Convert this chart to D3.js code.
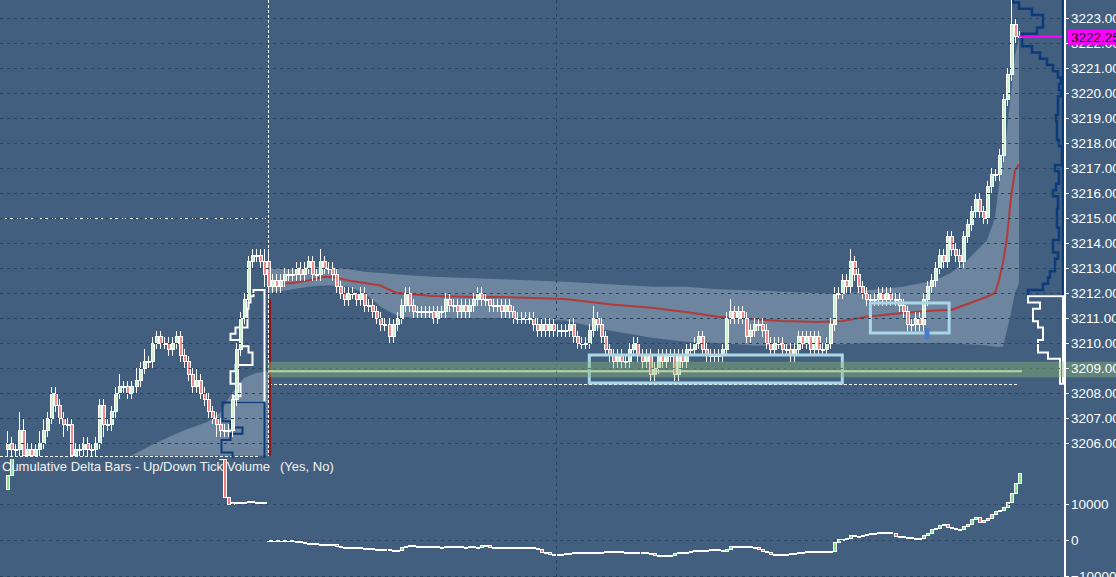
<!DOCTYPE html>
<html lang="en">
<head>
<meta charset="utf-8">
<title>ES tick chart</title>
<script src="https://d3js.org/d3.v7.min.js"></script>
<style>
  body { margin: 0; background: #425f7f; overflow: hidden; }
  svg { display: block; font-family: Arial, "Liberation Sans", sans-serif; }
</style>
</head>
<body>
<div id="chart"></div>
<script>
// ---- data ----
var priceTicks = [3206, 3207, 3208, 3209, 3210, 3211, 3212, 3213, 3214, 3215, 3216, 3217, 3218, 3219, 3220, 3221, 3222, 3223];
var deltaTicks = [10000, 0, -10000];
var lastPrice = 3222.25;

// previous session bars (open = prior close)
var openL0 = 3205.75;
var closeL = [3206.0, 3205.75, 3205.75, 3206.5, 3205.5, 3205.75, 3205.5, 3205.75, 3206.0, 3206.5,
  3207.0, 3208.0, 3207.5, 3207.0, 3206.75, 3206.75, 3205.5, 3205.75, 3205.75, 3206.0,
  3205.75, 3205.75, 3206.0, 3207.5, 3206.75, 3206.75, 3207.25, 3208.0, 3208.25, 3208.25,
  3208.0, 3208.25, 3208.5, 3209.0, 3209.25, 3209.25, 3210.0, 3210.25, 3210.0, 3210.0,
  3209.75, 3210.0, 3210.25, 3209.5, 3209.25, 3208.75, 3208.25, 3208.5, 3208.0, 3207.75,
  3207.25, 3207.0, 3206.75, 3206.5, 3206.5, 3206.5, 3207.75, 3209.75, 3211.0, 3211.75,
  3213.25, 3213.5, 3213.5, 3213.25, 3212.75];
var wickUpL = [2,1,1,3,2,1,1,1,2,2, 1,1,1,1,1,1,1,1,1,1, 1,1,1,1,1,1,1,1,2,1,
  1,1,2,1,2,1,1,1,1,1, 1,1,1,1,1,1,1,2,1,1, 1,1,1,1,1,1,1,1,1,1, 1,1,1,1,2];
var wickDnL = [1,1,1,1,0,0,0,0,1,1, 1,1,1,1,2,1,0,0,1,1, 1,1,1,1,2,1,1,1,1,1,
  1,1,1,1,1,1,1,1,1,1, 1,1,1,1,1,1,1,1,1,1, 1,1,2,1,1,1,1,1,1,1, 1,1,1,1,2];

// current session bars
var openR0 = 3213.25;
var closeR = [3212.25, 3212.5, 3212.25, 3212.5, 3212.75, 3212.75, 3212.75, 3213.0, 3212.75, 3213.0,
  3213.25, 3212.75, 3212.75, 3213.25, 3213.0, 3213.0, 3212.75, 3212.25, 3212.0, 3211.75,
  3212.0, 3212.0, 3211.75, 3212.0, 3211.5, 3211.5, 3211.25, 3211.0, 3210.75, 3210.75,
  3210.25, 3210.75, 3211.0, 3211.5, 3212.0, 3211.5, 3211.25, 3211.25, 3211.25, 3211.25,
  3211.25, 3211.0, 3211.25, 3211.25, 3211.75, 3211.5, 3211.5, 3211.25, 3211.5, 3211.25,
  3211.5, 3211.75, 3212.0, 3211.75, 3211.75, 3211.5, 3211.5, 3211.5, 3211.25, 3211.5,
  3211.25, 3211.0, 3211.0, 3211.0, 3211.0, 3211.0, 3210.75, 3210.5, 3210.75, 3210.5,
  3210.75, 3210.5, 3210.5, 3210.5, 3210.5, 3210.75, 3210.25, 3210.0, 3210.0, 3210.0,
  3210.5, 3211.0, 3210.75, 3210.25, 3209.75, 3209.5, 3209.25, 3209.5, 3209.25, 3209.25,
  3209.75, 3210.0, 3209.5, 3209.25, 3209.5, 3208.75, 3209.0, 3209.5, 3209.25, 3209.5,
  3209.5, 3208.75, 3209.5, 3209.25, 3209.75, 3209.75, 3210.0, 3210.25, 3209.75, 3209.5,
  3209.5, 3209.5, 3209.5, 3209.75, 3211.0, 3211.25, 3211.0, 3211.25, 3211.0, 3210.25,
  3210.5, 3210.75, 3210.75, 3210.5, 3210.0, 3209.75, 3210.0, 3210.0, 3209.75, 3209.75,
  3209.5, 3209.75, 3210.25, 3210.0, 3210.25, 3209.75, 3210.25, 3209.75, 3209.75, 3210.0,
  3210.75, 3212.0, 3212.0, 3212.5, 3212.25, 3213.25, 3212.75, 3212.25, 3212.0, 3211.75,
  3211.75, 3211.75, 3212.0, 3211.75, 3212.0, 3211.75, 3211.75, 3211.5, 3211.25, 3210.75,
  3210.75, 3211.0, 3210.75, 3211.75, 3212.25, 3212.5, 3213.0, 3213.5, 3213.25, 3214.25,
  3213.75, 3213.5, 3213.25, 3214.25, 3214.75, 3215.25, 3215.75, 3215.25, 3215.0, 3216.25,
  3216.75, 3216.75, 3217.5, 3219.75, 3220.75, 3222.75, 3222.25, 3222.25];
var wickUpR = [2,1,1,1,1,1,1,1,1,1, 1,1,1,2,1,1,1,1,1,1, 1,1,0,1,1,1,1,1,1,1,
  1,1,1,1,1,1,1,1,1,1, 1,1,1,1,1,1,1,1,1,1, 1,1,1,1,1,0,1,1,1,1,
  1,1,1,1,1,1,1,1,1,1, 1,1,1,1,1,1,1,1,1,1, 1,2,1,1,1,1,1,1,1,1,
  1,1,1,1,1,1,1,1,1,1, 1,1,1,1,1,1,1,1,1,1, 1,1,1,1,1,2,1,1,1,1,
  1,1,1,1,1,1,1,1,1,1, 1,1,1,1,1,1,1,1,1,1, 1,1,1,1,1,2,1,1,1,1,
  1,1,1,1,1,1,1,1,1,1, 1,1,1,1,1,1,1,1,1,1, 1,1,1,1,1,1,1,1,1,1,
  1,1,1,1,1,4,1,1];
var wickDnR = [2,1,1,1,1,1,1,1,1,1, 1,1,1,1,1,1,1,1,1,1, 1,1,1,1,1,1,1,1,1,1,
  1,1,1,1,1,1,1,1,1,1, 1,1,1,1,1,1,1,1,1,1, 1,1,1,1,1,1,1,1,1,1,
  1,1,1,1,1,1,1,1,1,1, 1,1,1,1,1,1,1,1,1,1, 1,1,1,1,1,1,1,1,1,1,
  1,1,1,1,1,1,1,1,1,1, 1,1,1,1,1,1,1,1,1,1, 1,1,1,1,1,1,1,1,1,1,
  1,1,1,1,1,1,1,1,1,1, 1,1,1,1,1,1,1,1,1,1, 1,1,1,1,1,1,1,1,1,1,
  1,1,1,1,1,1,1,1,1,1, 1,1,1,1,1,1,1,1,1,1, 1,1,1,1,1,1,1,1,1,1,
  1,1,1,1,1,1,1,0];

// cumulative delta closes (open = prior close)
var deltaOpenL0 = 13900;
var deltaL = [18000, 23500, 25000, 26500, 24000, 24500, 24000, 25000, 26000, 27500,
  29000, 31500, 30500, 29500, 28500, 28500, 25500, 25000, 24000, 23800,
  23500, 23600, 24500, 27500, 26000, 26000, 27000, 29000, 30000, 30000,
  29500, 30000, 30500, 31500, 32000, 32000, 33500, 34000, 33500, 33500,
  33000, 33500, 34000, 32500, 32000, 31000, 30000, 30500, 29500, 28500,
  27500, 26500, 25000, 22300, 11800, 10000, 10300, 10400, 10500, 10500,
  10600, 10500, 10500, 10500, 10500];
var deltaR = [0, 0, 0, 0, 0, 0, -300, -500, -700, -900,
  -900, -1100, -1200, -1200, -1200, -1300, -1300, -1700, -2200, -2200,
  -2200, -2300, -2200, -2300, -2300, -2300, -2500, -2500, -2600, -2700,
  -2800, -2800, -2800, -2200, -1700, -1600, -1700, -1700, -1800, -1900,
  -1900, -1900, -2000, -2000, -1900, -2000, -1900, -1900, -2000, -2000,
  -1900, -2000, -2000, -1500, -1600, -2000, -2200, -2200, -2100, -2200,
  -2200, -2200, -2200, -2100, -2200, -2200, -2300, -2700, -3500, -3600,
  -3900, -3900, -3900, -3900, -3800, -3800, -3600, -3600, -3600, -3600,
  -3500, -3500, -3400, -3400, -3300, -3300, -3400, -3300, -3500, -3600,
  -3600, -3600, -3600, -3600, -3700, -3800, -4300, -4400, -4400, -4300,
  -4300, -3800, -3600, -3600, -3500, -3300, -3000, -3000, -2900, -2900,
  -2700, -2700, -2800, -3300, -2700, -1900, -1800, -1700, -1800, -1800,
  -2100, -2200, -2600, -3200, -3600, -3900, -4100, -4100, -4000, -3900,
  -3800, -3700, -3600, -3500, -3300, -3300, -3300, -3300, -3200, -3200,
  -3100, -700, 100, 200, 300, 1200, 1100, 1100, 1200, 1600,
  1700, 1800, 2000, 2000, 2100, 1900, 900, 900, 800, 700,
  500, 400, 500, 1300, 1700, 3000, 3300, 4100, 4300, 3600,
  3100, 2800, 2900, 3700, 4200, 5800, 6200, 5000, 5300, 5900,
  7100, 7800, 8300, 9000, 10500, 13000, 15800, 18600];

// session VWAP and its band, sampled at current-session bar numbers
var vwapIdx = [0, 6, 10, 14, 17, 20, 24, 28, 32, 36, 41, 50, 58, 66, 74, 85, 96, 104, 112, 121,
  128, 137, 143, 149, 158, 166, 170, 174, 179, 181, 182, 183, 184, 185, 186, 187];
var vwap = [3212.35, 3212.4, 3212.5, 3212.65, 3212.62, 3212.5, 3212.4, 3212.3, 3212.0, 3211.95,
  3211.88, 3211.85, 3211.84, 3211.8, 3211.76, 3211.55, 3211.4, 3211.24, 3211.05, 3210.95,
  3210.88, 3210.84, 3210.88, 3211.05, 3211.2, 3211.3, 3211.32, 3211.55, 3211.85, 3212.0,
  3212.5, 3213.2, 3214.2, 3215.8, 3216.9, 3217.15];
var bandHi = [3213.0, 3212.95, 3213.05, 3213.05, 3213.0, 3212.95, 3212.85, 3212.8, 3212.75, 3212.7,
  3212.65, 3212.6, 3212.55, 3212.5, 3212.45, 3212.35, 3212.25, 3212.25, 3212.15, 3212.1,
  3212.05, 3212.0, 3211.95, 3212.1, 3212.25, 3212.5, 3212.8, 3213.3, 3214.1, 3215.0,
  3216.3, 3217.3, 3218.5, 3220.0, 3221.5, 3222.2];
var bandLo = [3212.0, 3212.15, 3212.25, 3212.3, 3212.3, 3212.25, 3212.0, 3211.45, 3211.1, 3211.0,
  3211.0, 3211.0, 3211.0, 3210.95, 3210.9, 3210.5, 3210.2, 3210.05, 3210.0, 3209.9,
  3209.9, 3209.95, 3209.95, 3210.0, 3210.0, 3210.0, 3210.0, 3209.95, 3209.9, 3209.85,
  3209.85, 3209.85, 3210.5, 3211.2, 3212.0, 3212.4];

// previous session band (only its lower part is visible), bar numbers of that session
var wedgeIdx = [31, 37, 44, 50, 53, 56, 59, 62, 64, 65];
var wedgeHi = [3205.5, 3206.0, 3206.5, 3206.85, 3207.2, 3208.0, 3208.6, 3208.8, 3208.85, 3208.85];
var wedgeLo = 3205.5;

// volume profiles (price level, volume)
var profLLevels = [3212.0, 3211.75, 3211.5, 3211.25, 3211.0, 3210.75, 3210.5, 3210.25, 3210.0, 3209.75,
  3209.5, 3209.25, 3209.0, 3208.75, 3208.5, 3208.25, 3208.0, 3207.75, 3207.5, 3207.25,
  3207.0, 3206.75, 3206.5, 3206.25, 3206.0, 3205.75, 3205.5];
var profLVol = [11, 14, 16, 17, 17, 17, 29, 34, 24, 16, 12, 12, 29, 34, 34, 24, 24, 31, 42, 42,
  42, 34, 22, 34, 43, 43, 32];
var profLSplit = 3207.5;
var profRLevels = [3223.75, 3223.5, 3223.25, 3223.0, 3222.75, 3222.5, 3222.25, 3222.0, 3221.75, 3221.5,
  3221.25, 3221.0, 3220.75, 3220.5, 3220.25, 3220.0, 3219.75, 3219.5, 3219.25, 3219.0,
  3218.75, 3218.5, 3218.25, 3218.0, 3217.75, 3217.5, 3217.25, 3217.0, 3216.75, 3216.5,
  3216.25, 3216.0, 3215.75, 3215.5, 3215.25, 3215.0, 3214.75, 3214.5, 3214.25, 3214.0,
  3213.75, 3213.5, 3213.25, 3213.0, 3212.75, 3212.5, 3212.25, 3212.0, 3211.75, 3211.5,
  3211.25, 3211.0, 3210.75, 3210.5, 3210.25, 3210.0, 3209.75, 3209.5, 3209.25, 3209.0,
  3208.75, 3208.5];
var profRVol = [50, 44, 31, 20, 20, 26, 41, 41, 31, 23, 16, 10, 5, 2, 4, 2, 5, 5, 5, 7,
  6, 6, 6, 4, 1, 1, 1, 8, 4, 4, 7, 10, 5, 5, 6, 6, 6, 4, 4, 10,
  10, 5, 8, 8, 13, 15, 20, 35, 35, 23, 30, 30, 25, 20, 20, 25, 25, 15, 3, 3,
  3, 3];
var profRSplit = 3212.0;

// levels and annotations
var zoneLo = 3208.625, zoneHi = 3209.25, zoneMid = 3208.875;
var priorLow = 3205.5, crossPrice = 3215.0, dashLevel = 3208.375;
var boxStart = [145, 215], boxEnd = [208, 234.6], boxLo = [3208.4, 3210.4], boxHi = [3209.52, 3211.6];
var markIdx = 229.1, markLo = 3210.15, markHi = 3210.6;

// ---- layout ----
var W = 1116, H = 577, axisX = 1065, nL = closeL.length;
var bg = "#425f7f", gridCol = "#2a4560";

var x = d3.scaleLinear().domain([0, 252]).range([7, 1019]);
var yP = d3.scaleLinear().domain([3206, 3223]).range([443, 18]);
var yD = d3.scaleLinear().domain([-10000, 10000]).range([576, 504]);
var vScale = d3.scaleLinear().domain([0, 50]).range([0, 50]);

var svg = d3.select("#chart").append("svg")
  .attr("width", W).attr("height", H);
svg.append("rect").attr("width", W).attr("height", H).attr("fill", bg);

var defs = svg.append("defs");
defs.append("clipPath").attr("id", "clipP").append("rect")
  .attr("x", 0).attr("y", 0).attr("width", axisX - 1).attr("height", 458);
defs.append("clipPath").attr("id", "clipD").append("rect")
  .attr("x", 0).attr("y", 459).attr("width", axisX - 1).attr("height", H - 459);

var gP = svg.append("g").attr("clip-path", "url(#clipP)");
var gD = svg.append("g").attr("clip-path", "url(#clipD)");

function buildBars(open0, closes, ups, dns, offset) {
  return closes.map(function(c, i) {
    var o = i === 0 ? open0 : closes[i - 1];
    return {
      i: offset + i, o: o, c: c,
      h: Math.max(o, c) + (ups ? ups[i] * 0.25 : 0),
      l: Math.min(o, c) - (dns ? dns[i] * 0.25 : 0)
    };
  });
}
var bars = buildBars(openL0, closeL, wickUpL, wickDnL, 0)
  .concat(buildBars(openR0, closeR, wickUpR, wickDnR, nL));
var dbars = buildBars(deltaOpenL0, deltaL, null, null, 0)
  .concat(buildBars(0, deltaR, null, null, nL));

// bands
gP.append("path")
  .datum(wedgeIdx)
  .attr("fill", "#6e859f")
  .attr("d", d3.area()
    .x(function(d) { return x(d); })
    .y0(yP(wedgeLo))
    .y1(function(d, i) { return yP(wedgeHi[i]); }));

gP.append("path")
  .datum(vwapIdx)
  .attr("fill", "#6e859f")
  .attr("d", d3.area()
    .x(function(d) { return x(nL + d); })
    .y0(function(d, i) { return yP(bandLo[i]); })
    .y1(function(d, i) { return yP(bandHi[i]); }));

// grid
var gG = svg.append("g").attr("shape-rendering", "crispEdges");
gG.selectAll("line.pgrid").data(priceTicks).enter().append("line")
  .attr("x1", 0).attr("x2", axisX)
  .attr("y1", function(d) { return Math.round(yP(d)) + 0.5; })
  .attr("y2", function(d) { return Math.round(yP(d)) + 0.5; })
  .attr("stroke", gridCol).attr("stroke-dasharray", "3,4");
gG.selectAll("line.dgrid").data(deltaTicks).enter().append("line")
  .attr("x1", 0).attr("x2", axisX)
  .attr("y1", function(d) { return Math.round(yD(d)) + 0.5; })
  .attr("y2", function(d) { return Math.round(yD(d)) + 0.5; })
  .attr("stroke", gridCol).attr("stroke-dasharray", "3,4");
gG.append("line")
  .attr("x1", 556.5).attr("x2", 556.5).attr("y1", 0).attr("y2", H)
  .attr("stroke", gridCol).attr("stroke-dasharray", "3,4");

// white dashed reference lines
function dashed(x1, x2, y1, y2) {
  gP.append("line").attr("x1", x1).attr("x2", x2).attr("y1", y1).attr("y2", y2)
    .attr("stroke", "#fff").attr("stroke-width", 1).attr("stroke-dasharray", "3,2")
    .attr("shape-rendering", "crispEdges");
}
dashed(0, x(nL), Math.round(yP(crossPrice)) + 0.5, Math.round(yP(crossPrice)) + 0.5);
dashed(0, x(nL - 2), Math.round(yP(priorLow)) + 0.5, Math.round(yP(priorLow)) + 0.5);
dashed(x(nL) + 0.5, x(252), Math.round(yP(dashLevel)) + 0.5, Math.round(yP(dashLevel)) + 0.5);
dashed(Math.round(x(nL)) + 0.5, Math.round(x(nL)) + 0.5, 0, yP(priorLow));

// volume profiles
function profilePath(levels, vols, anchor, keep) {
  var rows = levels.map(function(p, i) { return {p: p, v: vols[i]}; }).filter(keep);
  var path = d3.path();
  path.moveTo(anchor, yP(rows[0].p + 0.125));
  rows.forEach(function(d) {
    var xl = anchor - vScale(d.v);
    path.lineTo(xl, yP(d.p + 0.125));
    path.lineTo(xl, yP(d.p - 0.125));
  });
  path.lineTo(anchor, yP(rows[rows.length - 1].p - 0.125));
  path.closePath();
  return path.toString();
}
var ancL = Math.round(x(nL - 1)) + 0.5;
gP.append("path").attr("d", profilePath(profLLevels, profLVol, ancL, function(d) { return d.p > profLSplit; }))
  .attr("fill", "none").attr("stroke", "#fff").attr("stroke-width", 2);
gP.append("path").attr("d", profilePath(profLLevels, profLVol, ancL, function(d) { return d.p <= profLSplit; }))
  .attr("fill", "none").attr("stroke", "#0b3b7a").attr("stroke-width", 2);
var ancR = axisX - 2;
gP.append("path").attr("d", profilePath(profRLevels, profRVol, ancR, function(d) { return d.p >= profRSplit; }))
  .attr("fill", "none").attr("stroke", "#0b3b7a").attr("stroke-width", 2.5);
gP.append("path").attr("d", profilePath(profRLevels, profRVol, ancR, function(d) { return d.p < profRSplit; }))
  .attr("fill", "none").attr("stroke", "#fff").attr("stroke-width", 2);

// session-open marker and VWAP
gP.append("line")
  .attr("x1", x(nL) + 2).attr("x2", x(nL) + 2)
  .attr("y1", yP(3211.75)).attr("y2", yP(priorLow))
  .attr("stroke", "#8e1616").attr("stroke-width", 2);
gP.append("path")
  .datum(vwapIdx)
  .attr("fill", "none").attr("stroke", "#b23a3a").attr("stroke-width", 2)
  .attr("d", d3.line()
    .x(function(d) { return x(nL + d); })
    .y(function(d, i) { return yP(vwap[i]); }));

// zone mid line
gP.append("line")
  .attr("x1", x(nL)).attr("x2", x(252) + 3)
  .attr("y1", yP(zoneMid)).attr("y2", yP(zoneMid))
  .attr("stroke", "#dfe6c2").attr("stroke-width", 2);

// candles
var gC = gP.append("g").attr("shape-rendering", "crispEdges");
gC.selectAll("line.wick").data(bars).enter().append("line")
  .attr("x1", function(d) { return Math.round(x(d.i)) + 0.5; })
  .attr("x2", function(d) { return Math.round(x(d.i)) + 0.5; })
  .attr("y1", function(d) { return yP(d.h); })
  .attr("y2", function(d) { return yP(d.l); })
  .attr("stroke", "#fff").attr("stroke-width", 1);
gC.selectAll("rect.body").data(bars).enter().append("rect")
  .attr("x", function(d) { return Math.round(x(d.i)) - 1; })
  .attr("width", 3)
  .attr("y", function(d) { return yP(Math.max(d.o, d.c)); })
  .attr("height", function(d) { return Math.max(1, Math.abs(yP(d.o) - yP(d.c))); })
  .attr("fill", function(d) { return d.c > d.o ? "#cdf3cf" : d.c < d.o ? "#f38c8c" : "#fff"; })
  .attr("stroke", "#fff").attr("stroke-width", 1);

// value zone (over the bars, translucent)
svg.append("rect")
  .attr("x", x(nL)).attr("width", W - x(nL))
  .attr("y", yP(zoneHi)).attr("height", yP(zoneLo) - yP(zoneHi))
  .attr("fill", "rgb(140,185,120)").attr("fill-opacity", 0.42);

// annotation boxes
gP.selectAll("rect.box").data(boxStart).enter().append("rect")
  .attr("x", function(d) { return x(d); })
  .attr("width", function(d, i) { return x(boxEnd[i]) - x(d); })
  .attr("y", function(d, i) { return yP(boxHi[i]); })
  .attr("height", function(d, i) { return yP(boxLo[i]) - yP(boxHi[i]); })
  .attr("fill", "none").attr("stroke", "#a9d7e6").attr("stroke-width", 3);
gP.append("rect")
  .attr("x", x(markIdx) - 2.5).attr("width", 5)
  .attr("y", yP(markHi)).attr("height", yP(markLo) - yP(markHi))
  .attr("fill", "#4b7bc9");

// delta bars
var gDB = gD.append("g").attr("shape-rendering", "crispEdges");
gDB.selectAll("rect").data(dbars).enter().append("rect")
  .attr("x", function(d) { return Math.round(x(d.i)) - 1; })
  .attr("width", 3)
  .attr("y", function(d) { return yD(Math.max(d.o, d.c)); })
  .attr("height", function(d) { return Math.max(1, Math.abs(yD(d.o) - yD(d.c))); })
  .attr("fill", function(d) {
    return d.c - d.o > 250 ? "#86e585" : d.o - d.c > 250 ? "#f27c7c" : "#fff";
  })
  .attr("stroke", "#fff").attr("stroke-width", 1);

svg.append("text").attr("x", 2).attr("y", 471)
  .attr("fill", "#f2f2f2").attr("font-size", "13px")
  .text("Cumulative Delta Bars - Up/Down Tick Volume");
svg.append("text").attr("x", 280).attr("y", 471)
  .attr("fill", "#f2f2f2").attr("font-size", "13px")
  .text("(Yes, No)");

// axes
svg.append("line").attr("x1", axisX).attr("x2", axisX).attr("y1", 0).attr("y2", H)
  .attr("stroke", "#fff").attr("stroke-width", 2);

var axP = svg.append("g").attr("transform", "translate(" + axisX + ",0)")
  .call(d3.axisRight(yP).tickValues(priceTicks).tickFormat(d3.format(".2f")).tickSize(4).tickPadding(2));
var axD = svg.append("g").attr("transform", "translate(" + axisX + ",0)")
  .call(d3.axisRight(yD).tickValues(deltaTicks).tickFormat(d3.format("d")).tickSize(4).tickPadding(2));
[axP, axD].forEach(function(a) {
  a.select(".domain").remove();
  a.selectAll("line").attr("stroke", "#fff");
  a.selectAll("text").attr("fill", "#fff").attr("font-size", "13.5px")
    .attr("font-family", "Arial, 'Liberation Sans', sans-serif");
});

// last price
svg.append("line")
  .attr("x1", x(252)).attr("x2", axisX - 3)
  .attr("y1", yP(lastPrice)).attr("y2", yP(lastPrice))
  .attr("stroke", "#ff00ff").attr("stroke-width", 2);
svg.append("rect")
  .attr("x", axisX + 3).attr("width", W - axisX - 3)
  .attr("y", yP(lastPrice) - 7).attr("height", 15)
  .attr("fill", "#ff00ff");
svg.append("text")
  .attr("x", axisX + 6).attr("y", yP(lastPrice) + 5)
  .attr("fill", "#000").attr("font-size", "13.5px")
  .text(d3.format(".2f")(lastPrice));
</script>
</body>
</html>
